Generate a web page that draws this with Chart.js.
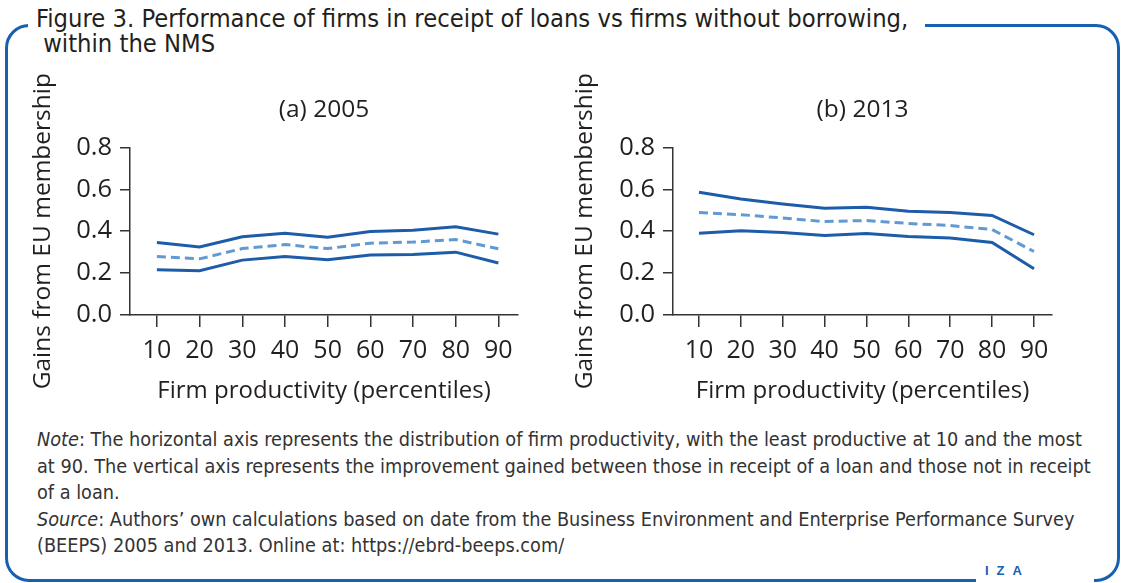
<!DOCTYPE html>
<html>
<head>
<meta charset="utf-8">
<script src="https://cdn.jsdelivr.net/npm/chart.js@4.4.1/dist/chart.umd.min.js"></script>
<style>
  html, body { margin: 0; padding: 0; background: #fff; }
  #page { position: relative; width: 1121px; height: 583px; overflow: hidden; background: #fff; }
  #frame {
    position: absolute; left: 5px; top: 24px; width: 1115px; height: 558px;
    box-sizing: border-box; border: 3px solid #1660b2; border-radius: 24px;
  }
  .narrow { font-family: "DejaVu Sans Condensed", "Liberation Sans Narrow", "Liberation Sans", sans-serif; font-stretch: condensed; color: #231f20; white-space: nowrap; }
  #title {
    position: absolute; left: 28px; top: 6px; width: 897px; padding-left: 8px; box-sizing: border-box;
    background: #fff; font-size: 25.3px; line-height: 25px;
  }
  #notes { position: absolute; left: 37px; top: 427px; font-size: 19.7px; line-height: 26.5px; color: #333; }
  #iza {
    position: absolute; left: 976px; top: 560px; width: 118px; height: 24px; background: #fff;
    font-family: "Liberation Sans", Arial, sans-serif; font-weight: bold; font-size: 13px; color: #1660b2;
    letter-spacing: 8px; padding-left: 9px; box-sizing: border-box; line-height: 22px;
  }
  #wrapA { position: absolute; left: 0px; top: 70px; width: 560px; height: 350px; }
  #wrapB { position: absolute; left: 560px; top: 70px; width: 561px; height: 350px; }
</style>
</head>
<body>
<div id="page">
  <div id="frame"></div>
  <div id="title" class="narrow">Figure 3. Performance of firms in receipt of loans vs firms without borrowing,<br>&nbsp;within the NMS</div>
  <div id="wrapA"><canvas id="chartA"></canvas></div>
  <div id="wrapB"><canvas id="chartB"></canvas></div>
  <div id="notes" class="narrow"><i>Note</i>: The horizontal axis represents the distribution of firm productivity, with the least productive at 10 and the most<br>at 90. The vertical axis represents the improvement gained between those in receipt of a loan and those not in receipt<br>of a loan.<br><i>Source</i>: Authors’ own calculations based on date from the Business Environment and Enterprise Performance Survey<br>(BEEPS) 2005 and 2013. Online at: https://ebrd-beeps.com/</div>
  <div id="iza">IZA</div>
</div>
<script>
// percentiles of firm productivity
const percentiles = [10, 20, 30, 40, 50, 60, 70, 80, 90];
const yTicks = [0, 0.2, 0.4, 0.6, 0.8];

// (a) 2005
const upper2005 = [0.346, 0.325, 0.373, 0.390, 0.371, 0.398, 0.405, 0.421, 0.386];
const mid2005   = [0.279, 0.268, 0.317, 0.336, 0.317, 0.343, 0.348, 0.360, 0.316];
const lower2005 = [0.216, 0.211, 0.262, 0.279, 0.264, 0.286, 0.289, 0.300, 0.248];

// (b) 2013
const upper2013 = [0.586, 0.554, 0.530, 0.510, 0.514, 0.495, 0.489, 0.475, 0.383];
const mid2013   = [0.489, 0.479, 0.463, 0.446, 0.451, 0.437, 0.427, 0.408, 0.303];
const lower2013 = [0.390, 0.402, 0.394, 0.379, 0.389, 0.375, 0.367, 0.346, 0.221];

const solidBlue = '#1c5ca8';
const dashBlue = '#619ad2';
const ink = '#231f20';
const fontFam = '"Open Sans", "Noto Sans", sans-serif';

function pts(vals) {
  return percentiles.map((p, i) => ({ x: p, y: vals[i] }));
}

function makeChart(id, title, upper, mid, lower, cfg) {
  const ctx = document.getElementById(id).getContext('2d');
  return new Chart(ctx, {
    type: 'line',
    data: {
      datasets: [
        { label: 'Upper', data: pts(upper), borderColor: solidBlue, borderWidth: 3, pointRadius: 0, tension: 0 },
        { label: 'Estimate', data: pts(mid), borderColor: dashBlue, borderWidth: 3, borderDash: [9, 5], pointRadius: 0, tension: 0 },
        { label: 'Lower', data: pts(lower), borderColor: solidBlue, borderWidth: 3, pointRadius: 0, tension: 0 }
      ]
    },
    options: {
      responsive: true,
      maintainAspectRatio: false,
      animation: false,
      layout: { padding: { left: 0, right: cfg.padRight, top: 0, bottom: 0 } },
      plugins: {
        legend: { display: false },
        tooltip: { enabled: false },
        title: {
          display: true, text: title, color: ink, fullSize: false,
          font: { family: fontFam, size: 24.5, weight: 'normal' },
          padding: { top: 25, bottom: 23 }
        }
      },
      scales: {
        x: {
          type: 'linear', min: cfg.xMin, max: cfg.xMax,
          afterBuildTicks: axis => { axis.ticks = percentiles.map(v => ({ value: v })); },
          afterFit: s => { s.height = 105; },
          grid: { drawOnChartArea: false, drawTicks: true, tickLength: 12, color: '#333', lineWidth: 1.5 },
          border: { display: true, color: '#333', width: 1.5 },
          ticks: { color: ink, font: { family: fontFam, size: 25 }, padding: 9, maxRotation: 0, autoSkip: false },
          title: { display: true, text: 'Firm productivity (percentiles)', color: ink,
                   font: { family: fontFam, size: 24 }, padding: { top: 0, bottom: 14 } }
        },
        y: {
          min: 0, max: 0.8,
          afterBuildTicks: axis => { axis.ticks = yTicks.map(v => ({ value: v })); },
          afterFit: s => { s.width = cfg.yWidth; },
          grid: { drawOnChartArea: false, drawTicks: true, tickLength: 10, color: '#333', lineWidth: 1.5 },
          border: { display: true, color: '#333', width: 1.5 },
          ticks: { color: ink, font: { family: fontFam, size: 25.5 }, padding: 8, callback: v => v.toFixed(1) },
          title: { display: true, text: 'Gains from EU membership', color: ink,
                   font: { family: fontFam, size: 24.5 }, padding: { top: cfg.yTitlePad, bottom: 0 } }
        }
      }
    }
  });
}

makeChart('chartA', '(a) 2005', upper2005, mid2005, lower2005,
  { padRight: 42, yWidth: 130, yTitlePad: 28, xMin: 3.7, xMax: 94.6 });
makeChart('chartB', '(b) 2013', upper2013, mid2013, lower2013,
  { padRight: 69, yWidth: 113, yTitlePad: 10, xMin: 3.8, xMax: 94.3 });
</script>
</body>
</html>
